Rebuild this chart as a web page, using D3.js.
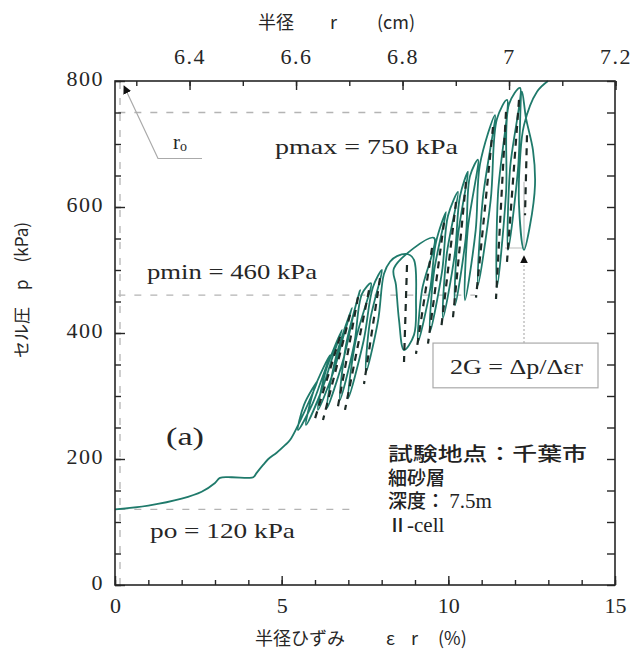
<!DOCTYPE html>
<html><head><meta charset="utf-8">
<script src="https://cdn.jsdelivr.net/npm/d3@7"></script>
<style>body{margin:0;background:#fff}svg{display:block}</style>
</head><body>
<svg id="chart" width="631" height="664"></svg>
<script>
// ---------- data ----------
// radial strain εr (%) and cell pressure p (kPa) along the measured curve
const strainCurve = [
  0,1.0,2.0,2.6,3.0,3.15,3.5,4.0,4.15,4.25,4.45,4.6,4.85,5.1,5.25,
  6.09,5.67,5.49,5.91,6.15,
  6.45,5.97,5.73,6.21,6.51,
  6.81,6.33,6.09,6.57,6.87,
  7.11,6.62,6.36,6.86,7.17,
  7.35,6.93,6.75,7.17,7.41,
  7.68,7.22,7.0,7.46,7.74,
  8.01,7.65,7.53,7.89,8.07,
  8.25,8.46,8.79,8.97,9.03,8.97,8.67,8.52,8.43,8.37,
  9.57,9.21,9.09,9.45,9.63,
  9.93,9.57,9.45,9.81,9.99,
  10.29,9.95,9.84,10.19,10.35,
  10.59,10.28,10.2,10.52,10.65,
  10.89,10.58,10.5,10.82,10.95,
  11.4,11.03,10.89,11.27,11.46,
  11.76,11.49,11.46,11.73,11.82,
  12.15,11.85,11.79,12.09,12.21,
  12.33,12.54,12.6,12.45,12.27,12.12,12.15,12.27,12.66,12.99
];
const pressureCurve = [
  120,126,137,148,162,170,171,170,171,178,191,200,210,222,230,
  325,286,246,286,319,
  365,310,254,310,359,
  405,341,278,341,398,
  440,360,281,360,433,
  468,381,294,381,462,
  479,388,297,388,473,
  500,419,338,419,494,
  513,522,525,516,452,397,373,421,476,503,
  551,468,386,468,544,
  592,497,402,497,586,
  624,524,424,524,617,
  656,550,444,550,649,
  675,563,452,563,668,
  746,611,476,611,740,
  770,621,473,621,763,
  789,660,532,660,783,
  741,690,635,571,532,603,675,730,783,800
];
// dashed 2G (elastic) lines inside the loops: start / end
const dashStrainStart   = [6.75, 7.05, 7.29, 7.62, 7.95, 8.76, 9.51, 9.87, 10.23, 10.53, 11.34, 11.73, 12.12, 12.36];
const dashPressureStart = [394, 429, 457, 468, 487, 508, 535, 575, 608, 640, 727, 751, 770, 714];
const dashStrainEnd     = [5.97, 6.24, 6.66, 6.9, 7.47, 8.67, 9.03, 9.39, 9.78, 10.14, 10.83, 11.43, 11.76, 12.3];
const dashPressureEnd   = [259, 262, 275, 278, 319, 354, 367, 383, 405, 425, 456, 454, 513, 587];

// reference pressure levels (kPa) and the strain where their guide line ends
const refPressures = [750, 460, 120];
const refStrainEnd = [11.5, 10.8, 7.2];

const strainTicks = [0, 5, 10, 15];
const strainMinor = d3.range(0, 15.01, 1);
const pressureTicks = [0, 200, 400, 600, 800];
const pressureMinor = d3.range(0, 800.1, 50);
const radiusTicks = [6.4, 6.6, 6.8, 7, 7.2];
const radiusMinor = [6.3, 6.4, 6.5, 6.6, 6.7, 6.8, 6.9, 7.0, 7.1, 7.2];
const radius0 = 6.26; // cm, r = r0 (1 + εr)

const siteLines = [["試験地点：千葉市", ""], ["細砂層", ""], ["深度： ", "7.5m"], ["Ⅱ", "-cell"]];

// ---------- layout ----------
const L = 115, R = 615, T = 81, B = 585;
const svg = d3.select("#chart");
const x = d3.scaleLinear().domain([0, 15]).range([L, R]);
const y = d3.scaleLinear().domain([0, 800]).range([B, T]);
const xr = d3.scaleLinear().domain([radius0, radius0 * 1.15]).range([L, R]);

const serif = "'Liberation Serif','Times New Roman',serif";
const cjk = "'Noto Sans CJK JP','Noto Sans CJK SC',sans-serif";
const ink = "#262626";

// guide lines (gray dashed)
const guide = svg.append("g").attr("stroke", "#b4b4b4").attr("stroke-width", 1.3)
  .attr("stroke-dasharray", "7,9").attr("fill", "none");
refPressures.forEach((p, i) => {
  guide.append("line").attr("x1", x(0.1)).attr("x2", x(refStrainEnd[i]))
    .attr("y1", y(p)).attr("y2", y(p));
});
guide.append("line").attr("x1", x(0.15)).attr("x2", x(0.15)).attr("y1", y(0)).attr("y2", y(800));

// r0 pointer
svg.append("defs").append("marker").attr("id", "arr").attr("viewBox", "0 0 10 10")
  .attr("refX", 9).attr("refY", 5).attr("markerWidth", 7).attr("markerHeight", 7)
  .attr("orient", "auto").append("path").attr("d", "M0,0L10,5L0,10z").attr("fill", "#111");
svg.append("polyline")
  .attr("points", [[x(2.61), y(677)], [x(1.29), y(677)], [x(0.27), y(792)]].map(d => d.join(",")).join(" "))
  .attr("fill", "none").attr("stroke", "#aaa").attr("stroke-width", 1.2).attr("marker-end", "url(#arr)");

// slope indicator and arrow to 2G box
svg.append("polyline")
  .attr("points", [[x(11.7), y(535)], [x(12.27), y(535)], [x(12.27), y(640)]].map(d => d.join(",")).join(" "))
  .attr("fill", "none").attr("stroke", "#bbb").attr("stroke-width", 1.1);
svg.append("line").attr("x1", x(12.27)).attr("x2", x(12.27)).attr("y1", y(384)).attr("y2", y(522))
  .attr("stroke", "#aaa").attr("stroke-width", 1.1).attr("stroke-dasharray", "2,2").attr("marker-end", "url(#arr)");

// 2G box
svg.append("rect").attr("x", x(9.54)).attr("y", y(384)).attr("width", x(14.49) - x(9.54))
  .attr("height", y(313) - y(384)).attr("fill", "#fff").attr("stroke", "#aaa").attr("stroke-width", 1.2);

// main curve
const line = d3.line().x(d => x(d[0])).y(d => y(d[1])).curve(d3.curveCatmullRom.alpha(0.5));
const curve = strainCurve.map((e, i) => [e, pressureCurve[i]]);
svg.append("path").datum(curve).attr("d", line).attr("fill", "none")
  .attr("stroke", "#1f7a6b").attr("stroke-width", 1.8).attr("stroke-linejoin", "round");

// dashed elastic lines
dashStrainStart.forEach((e, i) => {
  svg.append("line").attr("x1", x(e)).attr("y1", y(dashPressureStart[i]))
    .attr("x2", x(dashStrainEnd[i])).attr("y2", y(dashPressureEnd[i]))
    .attr("stroke", "#1c2a26").attr("stroke-width", 2.2).attr("stroke-dasharray", "7,6");
});

// frame
svg.append("rect").attr("x", L).attr("y", T).attr("width", R - L).attr("height", B - T)
  .attr("fill", "none").attr("stroke", ink).attr("stroke-width", 1.6);

// axes
function styleAxis(g) {
  g.select(".domain").remove();
  g.selectAll("line").attr("stroke", ink).attr("stroke-width", 1.4);
  g.selectAll("text").attr("fill", ink).style("font-family", serif).style("font-size", "22px");
}
svg.append("g").attr("transform", `translate(0,${B})`)
  .call(d3.axisBottom(x).tickValues(strainMinor).tickSizeInner(-5).tickSizeOuter(0).tickFormat(""))
  .call(styleAxis);
svg.append("g").attr("transform", `translate(0,${B})`)
  .call(d3.axisBottom(x).tickValues(strainTicks).tickSizeInner(-9).tickSizeOuter(0).tickPadding(12).tickFormat(d3.format("d")))
  .call(styleAxis);
svg.append("g").attr("transform", `translate(${L},0)`)
  .call(d3.axisLeft(y).tickValues(pressureMinor).tickSizeInner(-6).tickSizeOuter(0).tickFormat(""))
  .call(styleAxis);
svg.append("g").attr("transform", `translate(${L},0)`)
  .call(d3.axisLeft(y).tickValues(pressureTicks).tickSizeInner(-10).tickSizeOuter(0).tickPadding(11).tickFormat(d3.format("d")))
  .call(styleAxis)
  .selectAll("text").attr("dy", "0.2em").attr("letter-spacing", "1.5px");
svg.append("g").attr("transform", `translate(${R},0)`)
  .call(d3.axisRight(y).tickValues(pressureMinor).tickSizeInner(-8).tickSizeOuter(0).tickFormat(""))
  .call(styleAxis);
svg.append("g").attr("transform", `translate(0,${T})`)
  .call(d3.axisTop(xr).tickValues(radiusMinor).tickSizeInner(-5).tickSizeOuter(0).tickFormat(""))
  .call(styleAxis);
svg.append("g").attr("transform", `translate(0,${T})`)
  .call(d3.axisTop(xr).tickValues(radiusTicks).tickSizeInner(-9).tickSizeOuter(0).tickPadding(17).tickFormat(d => d3.format("")(+d.toFixed(1))))
  .call(styleAxis)
  .selectAll("text").attr("letter-spacing", "1.5px");

// axis titles
function cjkText(t, px, py, size, anchor) {
  return svg.append("text").attr("x", px).attr("y", py).attr("text-anchor", anchor || "start")
    .attr("fill", ink).style("font-family", cjk).style("font-size", size + "px").text(t);
}
cjkText("半径", 258, 29, 18);
cjkText("r", 330, 29, 18);
cjkText("(cm)", 377, 29, 18);
cjkText("半径ひずみ", 255, 645, 18);
cjkText("ε", 386, 645, 18);
cjkText("r", 411, 645, 18);
cjkText("(%)", 438, 645, 18);
svg.append("text").attr("transform", "translate(28,290) rotate(-90)").attr("text-anchor", "middle")
  .attr("fill", ink).style("font-family", cjk).style("font-size", "17px").text("セル圧　p　(kPa)");

// annotations
function serifText(t, px, py, size, len) {
  const s = svg.append("text").attr("x", px).attr("y", py).attr("fill", ink)
    .style("font-family", serif).style("font-size", size + "px").text(t);
  if (len) s.attr("textLength", len).attr("lengthAdjust", "spacingAndGlyphs");
  return s;
}
const r0 = svg.append("text").attr("x", 173).attr("y", 149).attr("fill", ink)
  .style("font-family", serif).style("font-size", "21px");
r0.append("tspan").text("r");
r0.append("tspan").attr("dy", 2).style("font-size", "14px").text("o");
serifText("pmax = 750 kPa", 275, 154, 22, 183);
serifText("pmin = 460 kPa", 147, 279, 22, 170);
serifText("po = 120 kPa", 150, 538, 22, 145);
serifText("(a)", 166, 445, 25, 38);
serifText("2G = Δp/Δεr", 450, 374, 21, 133);

siteLines.forEach((parts, i) => {
  const s = svg.append("text").attr("x", 388).attr("y", 461 + i * 23.5).attr("fill", "#222")
    .style("font-family", cjk).style("font-size", "19px").style("font-weight", 500);
  s.append("tspan").text(parts[0]);
  if (parts[1]) s.append("tspan").style("font-family", serif).style("font-size", "21px")
    .style("font-weight", 400).text(parts[1]);
  if (i === 0) s.attr("textLength", 199).attr("lengthAdjust", "spacingAndGlyphs");
});
</script>
</body></html>
